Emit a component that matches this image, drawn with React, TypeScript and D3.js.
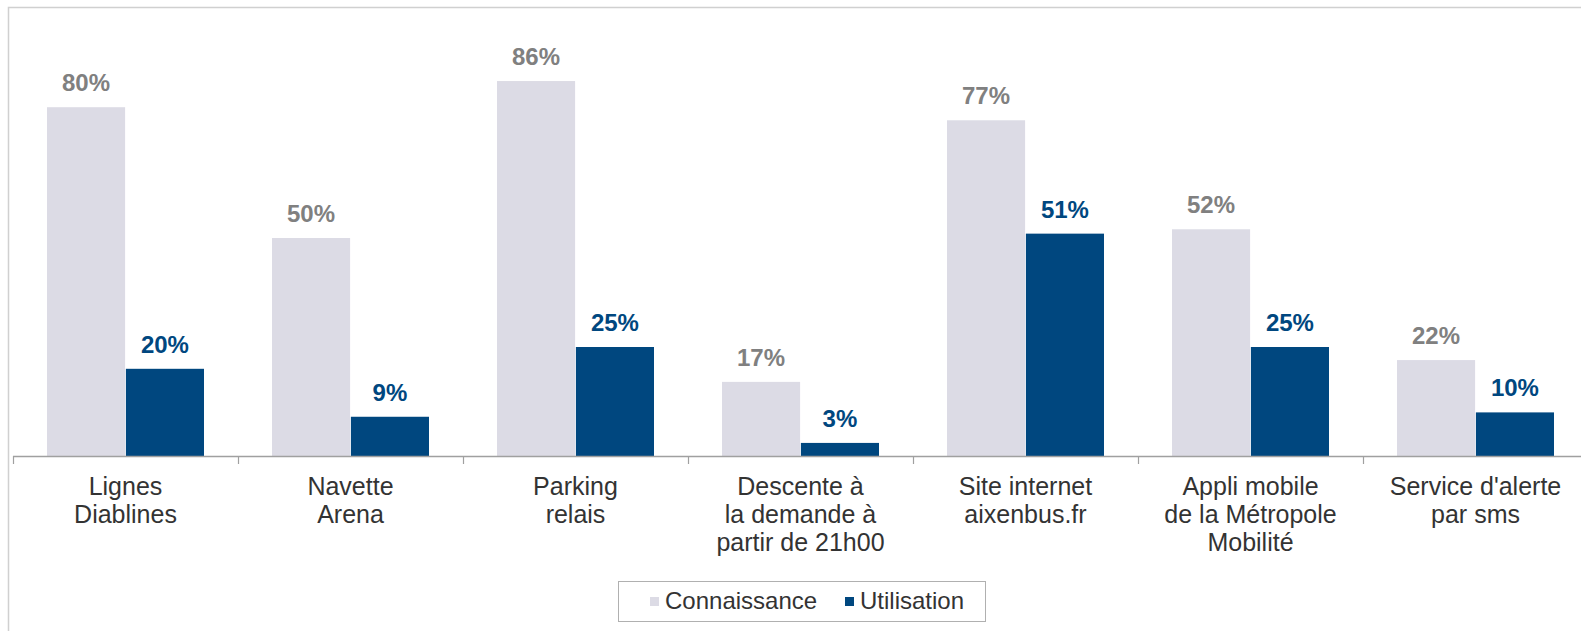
import React, { useEffect, useRef } from 'react';
import * as d3 from 'd3';

const categories: string[][] = [
    ['Lignes', 'Diablines'],
    ['Navette', 'Arena'],
    ['Parking', 'relais'],
    ['Descente à', 'la demande à', 'partir de 21h00'],
    ['Site internet', 'aixenbus.fr'],
    ['Appli mobile', 'de la Métropole', 'Mobilité'],
    ["Service d'alerte", 'par sms'],
];
const connaissance = [80, 50, 86, 17, 77, 52, 22];
const utilisation = [20, 9, 25, 3, 51, 25, 10];
const seriesNames = ['Connaissance', 'Utilisation'];

const W = 1581;
const H = 631;
const FONT = '"Liberation Sans", Arial, sans-serif';
const GREY = '#dcdbe5';
const BLUE = '#00477f';

const App: React.FC = () => {
    const svgRef = useRef<SVGSVGElement | null>(null);

    useEffect(() => {
        const svg = d3.select(svgRef.current);
        svg.selectAll('*').remove();

        const left = 13;
        const step = 225;
        const baseY = 456;

        const x = d3.scaleBand<number>()
            .domain(d3.range(categories.length))
            .range([left, left + step * categories.length])
            .paddingInner(0)
            .paddingOuter(0);
        const inner = d3.scaleBand<number>()
            .domain([0, 1])
            .range([34, x.bandwidth() - 34])
            .paddingInner(0.01);
        const y = d3.scaleLinear().domain([0, 100]).range([baseY, 20]);

        // frame
        svg.append('rect')
            .attr('x', 8.5).attr('y', 7.5)
            .attr('width', W + 20).attr('height', H + 20)
            .attr('fill', 'none').attr('stroke', '#d0d0d0').attr('stroke-width', 1.5);

        const series = [connaissance, utilisation];
        const colors = [GREY, BLUE];
        const labelColors = ['#808080', BLUE];

        series.forEach((vals, s) => {
            const g = svg.append('g');
            g.selectAll('rect')
                .data(vals)
                .enter()
                .append('rect')
                .attr('x', (_, i) => (x(i) ?? 0) + (inner(s) ?? 0))
                .attr('y', d => y(d))
                .attr('width', inner.bandwidth())
                .attr('height', d => baseY - y(d))
                .attr('fill', colors[s]);
            g.selectAll('text')
                .data(vals)
                .enter()
                .append('text')
                .attr('x', (_, i) => (x(i) ?? 0) + (inner(s) ?? 0) + inner.bandwidth() / 2)
                .attr('y', d => y(d) - 16)
                .attr('text-anchor', 'middle')
                .attr('font-family', FONT)
                .attr('font-size', 24)
                .attr('font-weight', 'bold')
                .attr('fill', labelColors[s])
                .text(d => `${d}%`);
        });

        // axis
        svg.append('line')
            .attr('x1', left).attr('x2', W + 10)
            .attr('y1', baseY + 0.5).attr('y2', baseY + 0.5)
            .attr('stroke', '#a0a0a0').attr('stroke-width', 1.5);
        svg.append('g')
            .selectAll('line')
            .data(d3.range(categories.length + 1))
            .enter()
            .append('line')
            .attr('x1', i => left + i * step + 0.5)
            .attr('x2', i => left + i * step + 0.5)
            .attr('y1', baseY)
            .attr('y2', baseY + 8)
            .attr('stroke', '#a0a0a0').attr('stroke-width', 1.2);

        const cat = svg.append('g')
            .selectAll('text')
            .data(categories)
            .enter()
            .append('text')
            .attr('x', (_, i) => (x(i) ?? 0) + x.bandwidth() / 2)
            .attr('y', 495)
            .attr('text-anchor', 'middle')
            .attr('font-family', FONT)
            .attr('font-size', 25)
            .attr('fill', '#333333');
        cat.selectAll('tspan')
            .data(d => d)
            .enter()
            .append('tspan')
            .attr('x', function () {
                return (this.parentNode as SVGTextElement).getAttribute('x');
            })
            .attr('dy', (_, j) => (j === 0 ? 0 : 28))
            .text(d => d);

        // legend
        const lg = svg.append('g');
        lg.append('rect')
            .attr('x', 618.5).attr('y', 581.5)
            .attr('width', 367).attr('height', 40)
            .attr('fill', 'white').attr('stroke', '#b0b0b0').attr('stroke-width', 1);
        const lx = [650, 845];
        seriesNames.forEach((name, s) => {
            lg.append('rect')
                .attr('x', lx[s]).attr('y', 597)
                .attr('width', 9).attr('height', 9)
                .attr('fill', colors[s]);
            lg.append('text')
                .attr('x', lx[s] + 15).attr('y', 609)
                .attr('font-family', FONT)
                .attr('font-size', 24)
                .attr('fill', '#333333')
                .text(name);
        });
    }, []);

    return <svg ref={svgRef} width={W} height={H} style={{ position: 'absolute', left: 0, top: 0 }} />;
};

export default App;
